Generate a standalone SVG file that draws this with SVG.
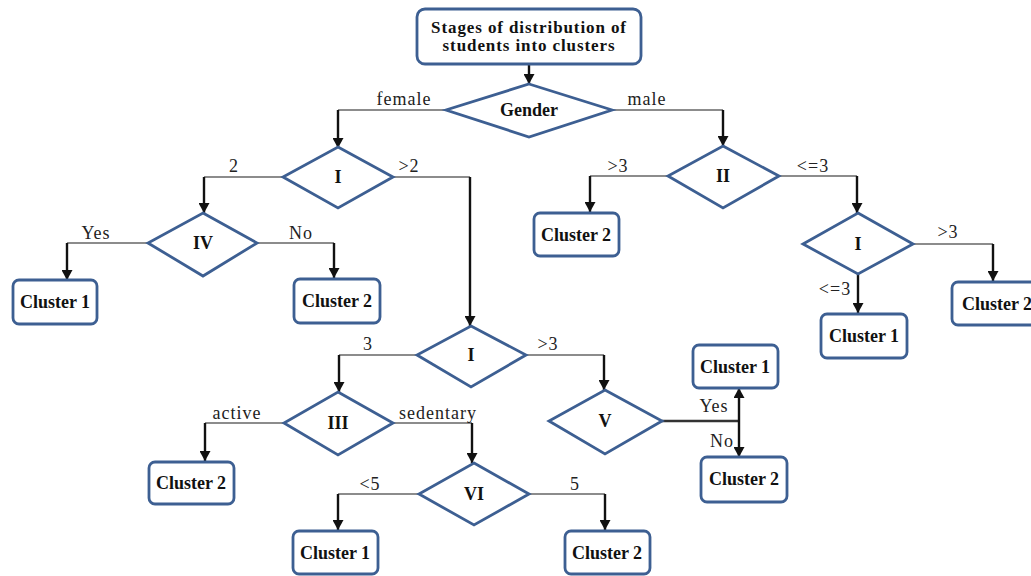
<svg xmlns="http://www.w3.org/2000/svg" width="1031" height="576" viewBox="0 0 1031 576">
<defs>
<marker id="arr" markerUnits="userSpaceOnUse" markerWidth="11" markerHeight="11" refX="10" refY="5.5" orient="auto">
<path d="M0,0 L10,5.5 L0,11 z" fill="#111"/>
</marker>
<style>
.box{fill:#fff;stroke:#3d5f92;stroke-width:2.8}
.dia{fill:#fff;stroke:#3d5f92;stroke-width:2.8}
.bt{font-family:"Liberation Serif",serif;font-weight:bold;font-size:18px;fill:#111;text-anchor:middle}
.lb{font-family:"Liberation Serif",serif;font-size:18px;letter-spacing:1px;fill:#222;text-anchor:middle}
.h{fill:none;stroke:#666;stroke-width:1.6}
.v{fill:none;stroke:#111;stroke-width:2.4;marker-end:url(#arr)}
</style>
</defs>
<rect width="1031" height="576" fill="#fff"/>
<g id="connectors">
<path class="v" d="M529,64 V84"/>
<path class="h" d="M446,110 H338"/><path class="v" d="M338,110 V148"/>
<path class="h" d="M612,110 H723"/><path class="v" d="M723,110 V146"/>
<path class="h" d="M283,177 H204"/><path class="v" d="M204,177 V213"/>
<path class="h" d="M393,177 H470"/><path class="v" d="M470,177 V326"/>
<path class="h" d="M148,243 H67"/><path class="v" d="M67,243 V280"/>
<path class="h" d="M257,243 H334"/><path class="v" d="M334,243 V278"/>
<path class="h" d="M668,176 H590"/><path class="v" d="M590,176 V212"/>
<path class="h" d="M779,176 H857"/><path class="v" d="M857,176 V213"/>
<path class="h" d="M913,244 H993"/><path class="v" d="M993,244 V281"/>
<path class="v" d="M858,274 V313"/>
<path class="h" d="M417,355 H339"/><path class="v" d="M339,355 V392"/>
<path class="h" d="M526,355 H604"/><path class="v" d="M604,355 V390"/>
<path class="h" d="M284,423 H205"/><path class="v" d="M205,423 V461"/>
<path class="h" d="M393,423 H472"/><path class="v" d="M472,423 V463"/>
<path class="h" d="M419,494 H338"/><path class="v" d="M338,494 V530"/>
<path class="h" d="M529,494 H605"/><path class="v" d="M605,494 V530"/>
<path class="h" d="M662,421 H739" style="stroke:#333;stroke-width:2.4"/>
<path class="v" d="M739,421 V388"/><path class="v" d="M739,421 V457"/>
</g>
<g id="labels">
<text class="lb" x="404" y="105">female</text>
<text class="lb" x="647" y="105">male</text>
<text class="lb" x="234" y="172">2</text>
<text class="lb" x="409" y="172">&gt;2</text>
<text class="lb" x="96" y="239">Yes</text>
<text class="lb" x="301" y="239">No</text>
<text class="lb" x="618" y="172">&gt;3</text>
<text class="lb" x="813" y="172">&lt;=3</text>
<text class="lb" x="948" y="238">&gt;3</text>
<text class="lb" x="835" y="295">&lt;=3</text>
<text class="lb" x="368" y="350">3</text>
<text class="lb" x="548" y="350">&gt;3</text>
<text class="lb" x="237" y="419">active</text>
<text class="lb" x="438" y="419">sedentary</text>
<text class="lb" x="370" y="490">&lt;5</text>
<text class="lb" x="575" y="490">5</text>
<text class="lb" x="714" y="412">Yes</text>
<text class="lb" x="722" y="447">No</text>
</g>
<g id="title"><rect class="box" x="417" y="9" width="224" height="55" rx="8"/>
<text class="bt" x="529" y="33" style="font-size:17px;letter-spacing:0.9px">Stages of distribution of</text>
<text class="bt" x="529" y="51" style="font-size:17px;letter-spacing:0.9px">students into clusters</text></g>
<g id="gender"><polygon class="dia" points="529,84 612,110 529,137 446,110"/><text class="bt" x="529" y="116">Gender</text></g>
<g id="d-I-left"><polygon class="dia" points="338,147 393,177 338,208 283,177"/><text class="bt" x="338" y="183">I</text></g>
<g id="d-II"><polygon class="dia" points="723,146 779,176 723,208 668,176"/><text class="bt" x="723" y="182">II</text></g>
<g id="d-IV"><polygon class="dia" points="203,213 257,243 203,276 148,243"/><text class="bt" x="203" y="249">IV</text></g>
<g id="d-I-right"><polygon class="dia" points="858,213 913,244 858,274 803,244"/><text class="bt" x="858" y="250">I</text></g>
<g id="d-I-mid"><polygon class="dia" points="471,326 526,355 471,387 417,355"/><text class="bt" x="471" y="361">I</text></g>
<g id="d-III"><polygon class="dia" points="338,392 393,423 338,455 284,423"/><text class="bt" x="338" y="429">III</text></g>
<g id="d-VI"><polygon class="dia" points="474,463 529,494 474,525 419,494"/><text class="bt" x="474" y="500">VI</text></g>
<g id="d-V"><polygon class="dia" points="605,390 662,421 605,454 549,421"/><text class="bt" x="605" y="427">V</text></g>
<g id="c1-a"><rect class="box" x="13" y="280" width="84" height="44" rx="6"/><text class="bt" x="55" y="308">Cluster 1</text></g>
<g id="c2-a"><rect class="box" x="294" y="279" width="86" height="44" rx="6"/><text class="bt" x="337" y="307">Cluster 2</text></g>
<g id="c2-b"><rect class="box" x="534" y="213" width="85" height="43" rx="6"/><text class="bt" x="576" y="241">Cluster 2</text></g>
<g id="c2-c"><rect class="box" x="952" y="282" width="90" height="43" rx="6"/><text class="bt" x="997" y="310">Cluster 2</text></g>
<g id="c1-b"><rect class="box" x="821" y="314" width="86" height="44" rx="6"/><text class="bt" x="864" y="342">Cluster 1</text></g>
<g id="c1-c"><rect class="box" x="693" y="345" width="85" height="43" rx="6"/><text class="bt" x="735" y="373">Cluster 1</text></g>
<g id="c2-d"><rect class="box" x="701" y="457" width="86" height="45" rx="6"/><text class="bt" x="744" y="485">Cluster 2</text></g>
<g id="c2-e"><rect class="box" x="149" y="462" width="85" height="42" rx="6"/><text class="bt" x="191" y="489">Cluster 2</text></g>
<g id="c1-d"><rect class="box" x="293" y="531" width="85" height="43" rx="6"/><text class="bt" x="335" y="559">Cluster 1</text></g>
<g id="c2-f"><rect class="box" x="565" y="531" width="85" height="43" rx="6"/><text class="bt" x="607" y="559">Cluster 2</text></g>
</svg>
